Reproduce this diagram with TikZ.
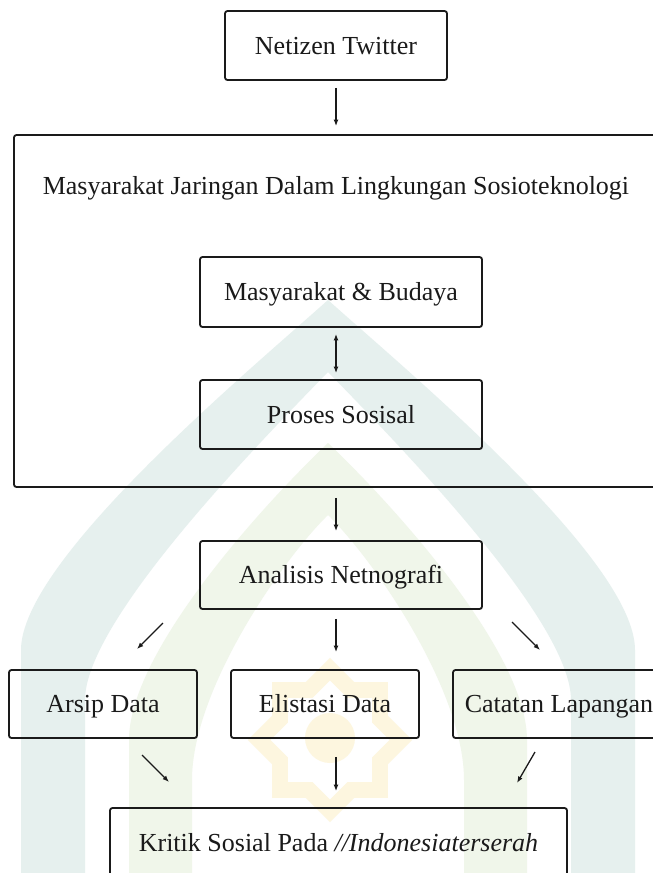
\documentclass[tikz,border=0pt]{standalone}
\usepackage{fontspec}
\setmainfont{Liberation Serif}
\usetikzlibrary{arrows.meta}
\definecolor{wmteal}{HTML}{E6F0EE}
\definecolor{wmgreen}{HTML}{F0F6EA}
\definecolor{wmyellow}{HTML}{FDF6DF}
\definecolor{ink}{HTML}{1A1A1A}
\begin{document}
\begin{tikzpicture}[x=1pt,y=-1pt,
  box/.style={draw=ink, line width=1.8pt, rounded corners=2.5pt, inner sep=0pt,
    text height=17.2pt, text depth=0pt, font=\fontsize{26}{30}\selectfont, text=ink},
  lbl/.style={font=\fontsize{26}{30}\selectfont, text=ink, inner sep=0pt},
  arr/.style={draw=ink, line width=1.3pt, -{Latex[length=6.5pt,width=5pt]}},
  darr/.style={draw=ink, line width=1.3pt, {Latex[length=6.5pt,width=5pt]}-{Latex[length=6.5pt,width=5pt]}}]
\useasboundingbox (0,0) rectangle (653,873);
\clip (0,0) rectangle (653,873);
\fill[white] (0,0) rectangle (653,873);
% watermark
\fill[wmteal, even odd rule]
  (21,880) -- (21,650) .. controls (21,560) and (250,370) .. (328,300)
  .. controls (406,370) and (635,560) .. (635,650) -- (635,880) -- cycle
  (85,880) -- (85,700) .. controls (85,620) and (262,440) .. (328,372)
  .. controls (394,440) and (571,620) .. (571,700) -- (571,880) -- cycle;
\fill[wmgreen, even odd rule]
  (129,880) -- (129,740) .. controls (129,650) and (268,500) .. (328,443)
  .. controls (388,500) and (527,650) .. (527,740) -- (527,880) -- cycle
  (192,880) -- (192,780) .. controls (192,690) and (282,560) .. (328,515)
  .. controls (374,560) and (464,690) .. (464,780) -- (464,880) -- cycle;
\foreach \a in {0,45}
  \fill[wmyellow, rotate around={\a:(330,740)}] (272,682) rectangle (388,798);
\foreach \a in {0,45}
  \fill[white, rotate around={\a:(330,740)}] (288,698) rectangle (372,782);
\fill[wmyellow] (330,738) circle (25);
% nodes
\node[box, minimum width=222pt, minimum height=69pt] (net) at (336,45.5) {Netizen Twitter};
\node[box, minimum width=660pt, minimum height=352pt] (soc) at (344,311) {};
\node[lbl, anchor=base] (title) at (336,194) {Masyarakat Jaringan Dalam Lingkungan Sosioteknologi};
\node[box, minimum width=282pt, minimum height=70pt] (mb) at (341,292) {Masyarakat \& Budaya};
\node[box, minimum width=282pt, minimum height=69pt] (ps) at (341,414.5) {Proses Sosisal};
\node[box, minimum width=282pt, minimum height=68pt] (ana) at (341,575) {Analisis Netnografi};
\node[box, minimum width=188pt, minimum height=68pt] (arsip) at (103,704) {Arsip Data};
\node[box, minimum width=188pt, minimum height=68pt] (eli) at (325,704) {Elistasi Data};
\node[box, minimum width=212pt, minimum height=68pt] (cat) at (559,704) {Catatan Lapangan};
\node[box, minimum width=457pt, minimum height=69pt] (kri) at (338.5,842.5) {Kritik Sosial Pada \textit{//Indonesiaterserah}};
% connectors
\draw[arr, shorten <=7pt, shorten >=8pt] (net.south) -- (net |- soc.north);
\draw[darr, shorten <=6pt, shorten >=6pt] (net |- mb.south) -- (net |- ps.north);
\draw[arr, shorten <=10pt, shorten >=9pt] (net |- soc.south) -- (net |- ana.north);
\draw[arr, shorten <=9pt, shorten >=17pt] (net |- ana.south) -- (net |- eli.north);
\draw[arr, shorten <=18pt, shorten >=16pt] (net |- eli.south) -- (net |- kri.north);
\coordinate (l1s) at (163,623);
\coordinate (l1e) at (137,649);
\coordinate (r1s) at (512,622);
\coordinate (r1e) at (540,650);
\coordinate (l2s) at (142,755);
\coordinate (l2e) at (169,782);
\coordinate (r2s) at (535,752);
\coordinate (r2e) at (517,783);
\draw[arr] (l1s) -- (l1e);
\draw[arr] (r1s) -- (r1e);
\draw[arr] (l2s) -- (l2e);
\draw[arr] (r2s) -- (r2e);
\end{tikzpicture}
\end{document}
